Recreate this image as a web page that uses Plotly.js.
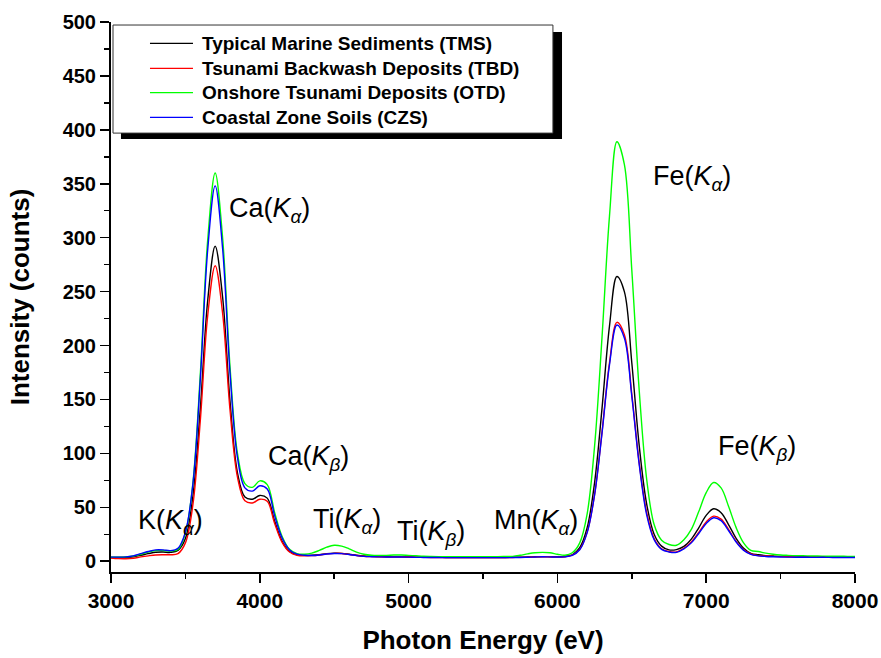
<!DOCTYPE html>
<html>
<head>
<meta charset="utf-8">
<script src="https://cdn.plot.ly/plotly-3.0.1.min.js"></script>
<style>html,body{margin:0;padding:0;background:#fff;}#chart{width:881px;height:658px;}</style>
</head>
<body>
<div id="chart"></div>
<script>
const energy = [3000,3050,3100,3150,3200,3250,3300,3350,3400,3450,
3500,3550,3600,3650,3700,3750,3800,3850,3900,3950,
4000,4050,4100,4150,4200,4250,4300,4350,4400,4450,
4500,4550,4600,4650,4700,4750,4800,4850,4900,4950,
5000,5050,5100,5150,5200,5250,5300,5350,5400,5450,
5500,5550,5600,5650,5700,5750,5800,5850,5900,5950,
6000,6050,6100,6150,6200,6250,6300,6350,6400,6450,
6500,6550,6600,6650,6700,6750,6800,6850,6900,6950,
7000,7050,7100,7150,7200,7250,7300,7350,7400,7450,
7500,7550,7600,7650,7700,7750,7800,7850,7900,7950,
8000];

const tms = [3.5,3.5,3.6,4.2,5.5,7.0,8.3,8.5,8.2,10,
21,60,141,242,292,245,148,82,59.5,57.5,
61,58.5,37,18.5,9,6,5.5,5.5,6,7,
7.5,7.3,6.5,5.5,4.8,4.5,4.3,4.1,4.0,4.0,
3.9,3.8,3.7,3.6,3.6,3.5,3.5,3.5,3.5,3.5,
3.5,3.5,3.5,3.5,3.6,3.7,3.9,4.1,4.3,4.2,
4.1,4.4,6,12.5,31,73,142,218,264,250,
184,107,53,25,14,10.5,10.8,13.7,20.5,31,
42.5,48.6,45,34,21.5,12.3,7.3,6,5.2,4.8,
4.5,4.4,4.3,4.2,4.1,4.0,4.0,3.9,3.9,3.8,
3.8];

const tbd = [3.0,2.4,2.3,2.8,4.0,5.0,5.8,6.0,6.0,7.0,
17,52,130,228,274,230,140,78,56,54,
57.5,55.5,35,17.5,8.5,5.5,5,5.2,5.8,6.8,
7.3,7.2,6.3,5.3,4.6,4.3,4.1,4.0,4.0,4.0,
3.9,3.7,3.6,3.5,3.5,3.4,3.4,3.4,3.4,3.4,
3.4,3.4,3.4,3.4,3.5,3.6,3.8,4.0,4.2,4.1,
4.0,4.2,5.6,11,27,62,120,184,221.5,210,
155,91,45,21,11.5,9,8.6,12,17.8,26.7,
36.4,41.8,39,29.5,18.7,10.8,6.7,5.2,4.8,4.5,
4.3,4.2,4.1,4.0,3.9,3.9,3.8,3.8,3.7,3.7,
3.7];

const otd = [3.8,3.8,4.0,4.8,6.5,8.5,9.8,10,9.5,11,
26,72,173,298,360,300,180,100,72,68.5,
74.5,71,45,23,11,7,6.5,7.5,10,13,
14.8,14,11.5,8.5,6.5,5.5,5.3,5.4,5.7,5.8,
5.4,5.0,4.6,4.4,4.3,4.3,4.3,4.3,4.3,4.3,
4.3,4.3,4.3,4.4,4.5,5.5,6.8,7.8,8.2,7.8,
6.5,5.5,7.8,17,44,107,208,320,389,368,
270,158,76,34,19.5,15.5,14.8,20,29.5,46,
63.6,73,68,51,31.6,17.3,10,9,7.5,6.5,
5.8,5.4,5.1,5.0,4.9,4.8,4.7,4.6,4.6,4.5,
4.5];

const czs = [3.8,3.8,4.0,5.0,7.0,9.0,10.5,10.5,9.8,12,
27,71,168,289,348,290,174,96,68,65,
70,67,42,21.5,10.5,6.5,5.5,5.3,5.8,6.7,
7.2,7.0,6.2,5.2,4.5,4.2,4.0,3.9,3.9,3.9,
3.8,3.6,3.5,3.4,3.4,3.3,3.3,3.3,3.3,3.3,
3.3,3.3,3.3,3.3,3.4,3.5,3.7,3.9,4.1,4.0,
3.9,4.0,5.4,10.6,26.5,61.5,119,182,219,207,
153,89.5,43,20,11,8.6,8.2,11.5,17,25.7,
35,40.3,37.6,28.5,18,10.3,6.4,5,4.4,4.1,
3.9,3.8,3.7,3.7,3.6,3.6,3.6,3.5,3.5,3.5,
3.5];

const seriesNames = ["Typical Marine Sediments (TMS)","Tsunami Backwash Deposits (TBD)","Onshore Tsunami Deposits (OTD)","Coastal Zone Soils (CZS)"];
const seriesColors = ["#000000","#ff0000","#00ff00","#0000ff"];
const seriesValues = [tms, tbd, otd, czs];

const peakLabels = ["K(<i>K<sub>α</sub></i>)","Ca(<i>K<sub>α</sub></i>)","Ca(<i>K<sub>β</sub></i>)","Ti(<i>K<sub>α</sub></i>)","Ti(<i>K<sub>β</sub></i>)","Mn(<i>K<sub>α</sub></i>)","Fe(<i>K<sub>α</sub></i>)","Fe(<i>K<sub>β</sub></i>)"];
const peakLabelX = [3403,4062,4324,4586,5151,5856,6905,7342];
const peakLabelY = [36,326,96,37,26,36,355,105];

const FONT = "Liberation Sans, Arial, sans-serif";

const traces = seriesValues.map((v,i)=>({
  x: energy, y: v, type:'scatter', mode:'lines', name: seriesNames[i],
  line:{color: seriesColors[i], width:1.4, shape:'spline', smoothing:1},
  showlegend:false
}));

// manual legend (boxed with drop shadow)
const lgX0=0.0027, lgX1=0.594, lgY0=0.798, lgY1=0.9945;
const shX0=0.0134, shX1=0.6062, shY0=0.7873, shY1=0.9818;
const rowY=[0.9613,0.9158,0.8715,0.8267];
const shapes=[
  {type:'rect',xref:'paper',yref:'paper',x0:shX0,x1:shX1,y0:shY0,y1:shY1,fillcolor:'#000',line:{width:0},layer:'above'},
  {type:'rect',xref:'paper',yref:'paper',x0:lgX0,x1:lgX1,y0:lgY0,y1:lgY1,fillcolor:'#fff',line:{color:'#333',width:1},layer:'above'}
];
const annotations=[];
seriesNames.forEach((n,i)=>{
  shapes.push({type:'line',xref:'paper',yref:'paper',x0:0.0524,x1:0.1102,y0:rowY[i],y1:rowY[i],line:{color:seriesColors[i],width:1.3},layer:'above'});
  annotations.push({xref:'paper',yref:'paper',x:0.1196,y:rowY[i],xanchor:'left',yanchor:'middle',text:n,showarrow:false,font:{family:FONT,size:19,color:'#000',weight:'bold'}});
});
peakLabels.forEach((t,i)=>{
  annotations.push({x:peakLabelX[i],y:peakLabelY[i],xref:'x',yref:'y',text:t,showarrow:false,xanchor:'center',yanchor:'middle',font:{family:FONT,size:27,color:'#000'}});
});

const layout={
  width:881,height:658,
  margin:{l:111,r:26,t:22,b:86},
  paper_bgcolor:'#fff',plot_bgcolor:'#fff',
  font:{family:FONT,color:'#000'},
  xaxis:{range:[3000,8000],tick0:3000,dtick:1000,ticks:'outside',ticklen:9,tickwidth:1.5,tickcolor:'#000',
    showline:true,linecolor:'#000',linewidth:2,showgrid:false,zeroline:false,
    minor:{dtick:500,ticks:'outside',ticklen:5,tickwidth:1.5,tickcolor:'#000'},
    tickfont:{family:FONT,size:21,weight:'bold'},
    title:{text:'Photon Energy (eV)',font:{family:FONT,size:26,weight:'bold'},standoff:20}},
  yaxis:{range:[-10,500],tick0:0,dtick:50,ticks:'outside',ticklen:9,tickwidth:1.5,tickcolor:'#000',
    showline:true,linecolor:'#000',linewidth:2,showgrid:false,zeroline:false,
    minor:{dtick:25,ticks:'outside',ticklen:5,tickwidth:1.5,tickcolor:'#000'},
    tickfont:{family:FONT,size:20,weight:'bold'},
    title:{text:'Intensity (counts)',font:{family:FONT,size:26,weight:'bold'},standoff:26}},
  shapes:shapes,
  annotations:annotations,
  showlegend:false
};
Plotly.newPlot('chart',traces,layout,{displayModeBar:false,staticPlot:true});
</script>
</body>
</html>
